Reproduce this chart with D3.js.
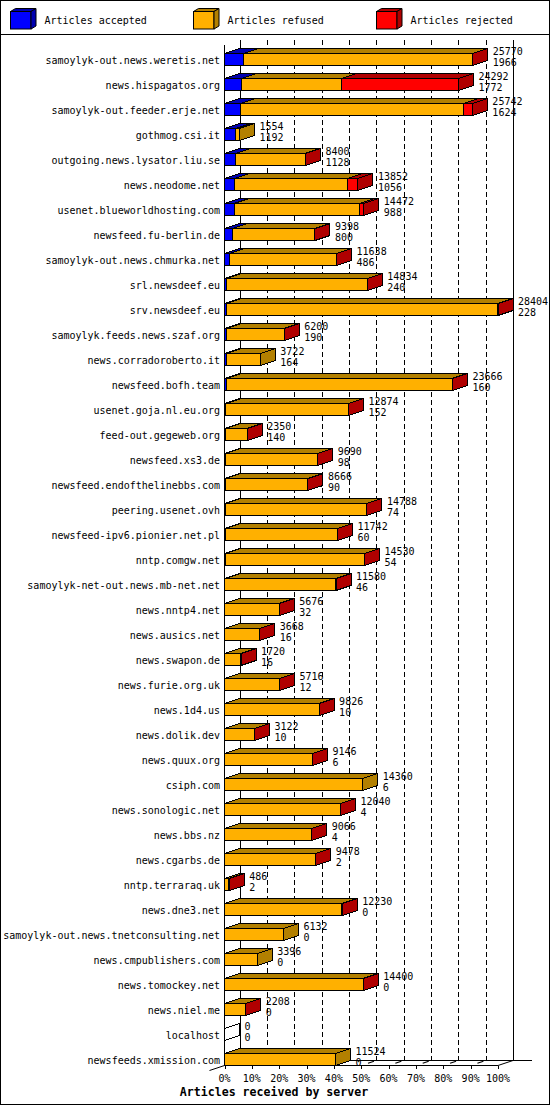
<!DOCTYPE html>
<html><head><meta charset="utf-8">
<script src="https://cdn.jsdelivr.net/npm/d3@7"></script>
<style>
body{margin:0;background:#fff}
svg{display:block}
text{font-family:"DejaVu Sans Mono","Liberation Mono",monospace;fill:#000}
</style>
</head><body>
<svg id="c" width="550" height="1105"></svg>
<script>
// ---- data ----
const servers = [
 "samoylyk-out.news.weretis.net","news.hispagatos.org","samoylyk-out.feeder.erje.net","gothmog.csi.it",
 "outgoing.news.lysator.liu.se","news.neodome.net","usenet.blueworldhosting.com","newsfeed.fu-berlin.de",
 "samoylyk-out.news.chmurka.net","srl.newsdeef.eu","srv.newsdeef.eu","samoylyk.feeds.news.szaf.org",
 "news.corradoroberto.it","newsfeed.bofh.team","usenet.goja.nl.eu.org","feed-out.gegeweb.org",
 "newsfeed.xs3.de","newsfeed.endofthelinebbs.com","peering.usenet.ovh","newsfeed-ipv6.pionier.net.pl",
 "nntp.comgw.net","samoylyk-net-out.news.mb-net.net","news.nntp4.net","news.ausics.net",
 "news.swapon.de","news.furie.org.uk","news.1d4.us","news.dolik.dev","news.quux.org","csiph.com",
 "news.sonologic.net","news.bbs.nz","news.cgarbs.de","nntp.terraraq.uk","news.dne3.net",
 "samoylyk-out.news.tnetconsulting.net","news.cmpublishers.com","news.tomockey.net","news.niel.me",
 "localhost","newsfeeds.xmission.com"
];
const totals = [25770,24292,25742,1554,8400,13852,14472,9398,11638,14834,28404,6200,3722,23666,12874,2350,
 9690,8666,14788,11742,14530,11580,5676,3668,1720,5716,9826,3122,9146,14360,12040,9066,9478,486,12230,
 6132,3396,14400,2208,0,11524];
const accepted = [1966,1772,1624,1192,1128,1056,988,800,486,240,228,190,164,160,152,140,98,90,74,60,54,46,
 32,16,16,12,10,10,6,6,4,4,2,2,0,0,0,0,0,0,0];
const refused = [23764,10370,23218,362,7242,11756,13004,8578,11132,14574,28146,6000,3558,23476,12702,2200,
 9582,8566,14694,11662,14456,11514,5634,3642,1694,5694,9806,3102,9130,14354,12026,9052,9466,424,12130,
 6132,3396,14390,2198,0,11524];
const rejected = [40,12150,900,0,30,1040,480,20,20,20,30,10,0,30,20,10,10,10,20,20,20,20,10,10,10,10,10,
 10,10,0,10,10,10,60,100,0,0,10,10,0,0];
const percentTicks = [0,10,20,30,40,50,60,70,80,90,100];
const seriesNames = ["Articles accepted","Articles refused","Articles rejected"];
const axisTitle = "Articles received by server";

// ---- styles ----
const frontColors = ["#0000ff","#ffb000","#ff0000"];
const darkColors  = ["#0000b0","#b38000","#b00000"];

const svg = d3.select("#c");
svg.append("rect").attr("x",0.5).attr("y",0.5).attr("width",549).attr("height",1104)
   .attr("fill","#fff").attr("stroke","#000");

const DX = 15, DY = 5;
const x = d3.scaleLinear().domain([0, d3.max(totals)]).range([224.5, 498]);
const pct = d3.scaleLinear().domain([0,100]).range([224.5, 498]);
const y = d3.scalePoint().domain(servers).range([59.5, 59.5 + 25*(servers.length-1)]);
const yTop = 40, yFloorBack = 1060.5, yFloorFront = 1065.5;

const g = svg.append("g").attr("shape-rendering","crispEdges");

// legend
svg.append("line").attr("x1",0).attr("x2",550).attr("y1",34.5).attr("y2",34.5).attr("stroke","#000");
const leg = svg.append("g");
seriesNames.forEach((n,k)=>{
  const x0 = 10.5 + k*183, x1 = x0 + 20.5, t = 11.5, b = 29, ldx = 5, ldy = 3;
  leg.append("rect").attr("x",x0).attr("y",t).attr("width",x1-x0).attr("height",b-t)
     .attr("fill",frontColors[k]).attr("stroke","#000");
  leg.append("polygon").attr("points",[[x0,t],[x1,t],[x1+ldx,t-ldy],[x0+ldx,t-ldy]].join(" "))
     .attr("fill",darkColors[k]).attr("stroke","#000");
  leg.append("polygon").attr("points",[[x1,t],[x1+ldx,t-ldy],[x1+ldx,b-ldy],[x1,b]].join(" "))
     .attr("fill",darkColors[k]).attr("stroke","#000");
  leg.append("text").attr("x",x0+34).attr("y",24).attr("font-size","10px").text(n);
});

// back grid
const gridT = percentTicks.filter(t=>t>0 && t<100);
g.selectAll(".grid").data(gridT).join("line")
  .attr("x1",t=>Math.round(pct(t)+DX)+0.5).attr("x2",t=>Math.round(pct(t)+DX)+0.5)
  .attr("y1",yTop).attr("y2",yFloorBack).attr("stroke","#000").attr("stroke-dasharray","5,3");
// walls
[0,100].forEach(t=>{
  g.append("line").attr("x1",Math.round(pct(t)+DX)+0.5).attr("x2",Math.round(pct(t)+DX)+0.5)
   .attr("y1",yTop).attr("y2",yFloorBack).attr("stroke","#000");
});
g.append("line").attr("x1",pct(0)).attr("x2",pct(0)).attr("y1",yTop+DY).attr("y2",yFloorFront).attr("stroke","#000");
// floor
g.append("line").attr("x1",pct(0)).attr("x2",pct(100)).attr("y1",yFloorFront).attr("y2",yFloorFront).attr("stroke","#000");
g.append("line").attr("x1",pct(0)+DX).attr("x2",532).attr("y1",yFloorBack).attr("y2",yFloorBack).attr("stroke","#000");
svg.append("line").attr("x1",pct(100)).attr("y1",yFloorFront).attr("x2",pct(100)+DX).attr("y2",yFloorBack).attr("stroke","#000");
svg.append("line").attr("x1",pct(0)-DX).attr("y1",yFloorFront+DY).attr("x2",pct(0)+DX).attr("y2",yFloorBack).attr("stroke","#000");
// floor diagonal dashed marks
svg.selectAll(".fd").data(gridT).join("line")
  .attr("x1",t=>pct(t)+DX*0.85).attr("y1",yFloorBack+DY*0.15)
  .attr("x2",t=>pct(t)+DX*0.45).attr("y2",yFloorBack+DY*0.55)
  .attr("stroke","#000").attr("stroke-width",1.3);
// front ticks
g.selectAll(".tk").data(percentTicks).join("line")
  .attr("x1",t=>Math.round(pct(t))+0.5).attr("x2",t=>Math.round(pct(t))+0.5)
  .attr("y1",yFloorFront).attr("y2",yFloorFront+3).attr("stroke","#000");
svg.selectAll(".tl").data(percentTicks).join("text")
  .attr("x",t=>pct(t)).attr("y",1082).attr("text-anchor","middle").attr("font-size","10px")
  .text(t=>t+"%");
svg.append("text").attr("x",274).attr("y",1096).attr("text-anchor","middle")
  .attr("font-size","11.6px").attr("font-weight","bold").text(axisTitle);

// bars
const bars = svg.append("g").attr("shape-rendering","crispEdges");
servers.forEach((s,i)=>{
  const c = y(s), top = c-6, bot = c+6;
  const vals = [accepted[i], refused[i], rejected[i]];
  let cum = 0;
  if (totals[i] === 0) {
    const x0 = x(0);
    bars.append("polygon").attr("points",[[x0,top],[x0+DX,top-DY],[x0+DX,bot-DY],[x0,bot]].join(" "))
      .attr("fill","none").attr("stroke","#000");
  }
  vals.forEach((v,k)=>{
    if (v <= 0) return;
    const x0 = x(cum), x1 = x(cum+v);
    cum += v;
    bars.append("rect").attr("x",x0).attr("y",top).attr("width",Math.max(0,x1-x0)).attr("height",bot-top)
      .attr("fill",frontColors[k]).attr("stroke","#000");
    bars.append("polygon").attr("points",[[x0,top],[x1,top],[x1+DX,top-DY],[x0+DX,top-DY]].join(" "))
      .attr("fill",darkColors[k]).attr("stroke","#000");
    bars.append("polygon").attr("points",[[x1,top],[x1+DX,top-DY],[x1+DX,bot-DY],[x1,bot]].join(" "))
      .attr("fill",darkColors[k]).attr("stroke","#000");
  });
  const lx = x(totals[i]) + DX + 5;
  svg.append("text").attr("x",lx).attr("y",c-5).attr("font-size","10px").text(totals[i]);
  svg.append("text").attr("x",lx).attr("y",c+6).attr("font-size","10px").text(accepted[i]);
  svg.append("text").attr("x",220).attr("y",c+4).attr("text-anchor","end").attr("font-size","10px").text(s);
});
</script>
</body></html>
